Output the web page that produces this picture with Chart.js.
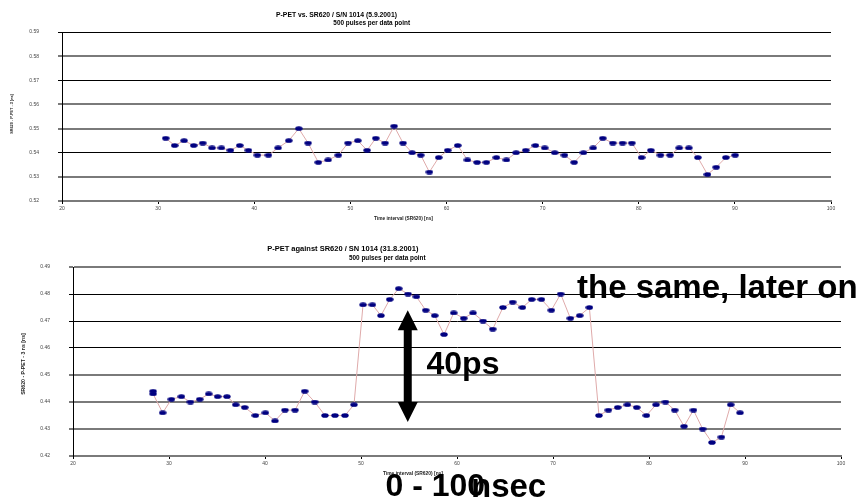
<!DOCTYPE html>
<html><head><meta charset="utf-8">
<script src="https://cdn.jsdelivr.net/npm/chart.js@4.4.1/dist/chart.umd.min.js"></script>
<style>
html,body{margin:0;padding:0;background:#fff;}
#wrap{position:relative;width:862px;height:502px;overflow:hidden;font-family:"Liberation Sans",Arial,sans-serif;}
canvas{position:absolute;left:0;}
.t{position:absolute;white-space:nowrap;font-weight:bold;color:#000;line-height:1;}
.c{transform:translate(-50%,-50%);}
.r{transform:translate(-50%,-50%) rotate(-90deg);}
.big{font-size:32px;}
</style></head><body>
<div id="wrap">
<canvas id="c1" width="862" height="228" style="top:0"></canvas>
<canvas id="c2" width="862" height="272" style="top:230px"></canvas>
<div class="t c" style="left:336.5px;top:15px;font-size:6.8px">P-PET vs. SR620 / S/N 1014 (5.9.2001)</div>
<div class="t c" style="left:371.7px;top:23.3px;font-size:6.4px">500 pulses per data point</div>
<div class="t r" style="left:12.5px;top:114px;font-size:3.8px;color:#222">SR620 - P-PET - 3 [ns]</div>
<div class="t c" style="left:403.5px;top:219px;font-size:4.8px;color:#222">Time interval (SR620) [ns]</div>
<div class="t c" style="left:342.8px;top:249px;font-size:7.5px">P-PET against SR620 / SN 1014 (31.8.2001)</div>
<div class="t c" style="left:387.3px;top:257.7px;font-size:6.4px">500 pulses per data point</div>
<div class="t r" style="left:24px;top:364px;font-size:5.2px;color:#222">SR620 - P-PET - 3 ns [ns]</div>
<div class="t c" style="left:413px;top:474px;font-size:4.9px;color:#222">Time interval (SR620) [ns]</div>
<div class="t big" style="left:577px;top:270px;font-size:33px">the same, later on</div>
<div class="t big" style="left:426.5px;top:347px">40ps</div>
<div class="t big" style="left:385.5px;top:469px">0 - 100</div>
<div class="t big" style="left:471px;top:469px;font-size:33px">nsec</div>
</div>
<script>
// ---- data ----
const topX = [30.79,31.72,32.70,33.70,34.64,35.61,36.58,37.52,38.49,39.39,
  40.33,41.47,42.48,43.59,44.63,45.60,46.67,47.68,48.75,49.76,
  50.77,51.74,52.64,53.61,54.55,55.48,56.42,57.32,58.22,59.19,
  60.13,61.17,62.18,63.18,64.15,65.19,66.23,67.24,68.25,69.25,
  70.22,71.26,72.27,73.28,74.25,75.26,76.26,77.30,78.31,79.28,
  80.29,81.26,82.26,83.27,84.21,85.21,86.15,87.15,88.06,89.06,
  90.03];
const topY = [0.546,0.543,0.545,0.543,0.544,0.542,0.542,0.541,0.543,0.541,
  0.539,0.539,0.542,0.545,0.550,0.544,0.536,0.537,0.539,0.544,
  0.545,0.541,0.546,0.544,0.551,0.544,0.540,0.539,0.532,0.538,
  0.541,0.543,0.537,0.536,0.536,0.538,0.537,0.540,0.541,0.543,
  0.542,0.540,0.539,0.536,0.540,0.542,0.546,0.544,0.544,0.544,
  0.538,0.541,0.539,0.539,0.542,0.542,0.538,0.531,0.534,0.538,
  0.539];
const bottomX = [28.34,28.34,29.34,30.25,31.29,32.23,33.20,34.14,35.07,36.04,
  36.95,37.89,39.00,40.04,41.04,42.08,43.13,44.14,45.18,46.25,
  47.29,48.33,49.27,50.21,51.19,52.08,52.99,53.93,54.90,55.77,
  56.74,57.68,58.65,59.66,60.70,61.67,62.71,63.72,64.79,65.80,
  66.81,67.78,68.79,69.83,70.80,71.81,72.78,73.79,74.79,75.77,
  76.74,77.75,78.72,79.73,80.73,81.71,82.68,83.65,84.63,85.59,
  86.56,87.54,88.51,89.48];
const bottomY = [0.444,0.443,0.436,0.441,0.442,0.440,0.441,0.443,0.442,0.442,
  0.439,0.438,0.435,0.436,0.433,0.437,0.437,0.444,0.440,0.435,
  0.435,0.435,0.439,0.476,0.476,0.472,0.478,0.482,0.480,0.479,
  0.474,0.472,0.465,0.473,0.471,0.473,0.470,0.467,0.475,0.477,
  0.475,0.478,0.478,0.474,0.480,0.471,0.472,0.475,0.435,0.437,
  0.438,0.439,0.438,0.435,0.439,0.440,0.437,0.431,0.437,0.430,
  0.425,0.427,0.439,0.436];
const topYRange = [0.52, 0.59];
const bottomYRange = [0.42, 0.49];
const xRange = [20, 100];
const topDarkGrid = [59, 57, 54];
const bottomDarkGrid = [48, 47, 46];
// annotation arrow (data coordinates)
const arrowX = 54.87, arrowTop = 0.474, arrowBottom = 0.4326;

// ---- drawing ----
function dot(){
  const c=document.createElement('canvas'); c.width=8; c.height=5;
  const g=c.getContext('2d'); g.fillStyle='#000080';
  g.beginPath(); g.ellipse(4,2.5,3.7,2.3,0,0,Math.PI*2); g.fill();
  return c;
}
const marker = dot();

const arrowPlugin = {
  id:'arrow',
  afterDatasetsDraw(chart){
    const {ctx, scales:{x,y}} = chart;
    const px = x.getPixelForValue(arrowX), t = y.getPixelForValue(arrowTop), b = y.getPixelForValue(arrowBottom);
    const hw = 10, hh = 20, sw = 4;
    ctx.save(); ctx.fillStyle='#000'; ctx.beginPath();
    ctx.moveTo(px,t); ctx.lineTo(px+hw,t+hh); ctx.lineTo(px+sw,t+hh); ctx.lineTo(px+sw,b-hh);
    ctx.lineTo(px+hw,b-hh); ctx.lineTo(px,b); ctx.lineTo(px-hw,b-hh); ctx.lineTo(px-sw,b-hh);
    ctx.lineTo(px-sw,t+hh); ctx.lineTo(px-hw,t+hh); ctx.closePath(); ctx.fill(); ctx.restore();
  }
};

function makeChart(id, xs, ys, yRange, dark, geom, plugins){
  const isDark = c => dark.includes(Math.round(c.tick.value*100));
  return new Chart(document.getElementById(id), {
    type:'line',
    data:{datasets:[{
      data: xs.map((x,i)=>({x:x, y:ys[i]})),
      borderColor:'#dfaaaa', borderWidth:1, tension:0,
      pointStyle: marker, pointRadius:4, pointHoverRadius:4, fill:false
    }]},
    options:{
      responsive:false, animation:false, events:[],
      layout:{padding:{left:0, right:geom.right, top:geom.top, bottom:0}},
      plugins:{legend:{display:false}, tooltip:{enabled:false}, title:{display:false}},
      scales:{
        x:{type:'linear', min:xRange[0], max:xRange[1],
          afterFit: s => { s.height = geom.xh; },
          ticks:{stepSize:10, font:{family:'Liberation Sans', size:5}, color:'#444', padding:2, maxRotation:0, autoSkip:false},
          grid:{drawOnChartArea:false, drawTicks:true, tickLength:3, color:'#000'},
          border:{display:true, color:'#7a7a7a', width:2}
        },
        y:{type:'linear', min:yRange[0], max:yRange[1],
          afterFit: s => { s.width = geom.yw; },
          ticks:{stepSize:0.01, font:{family:'Liberation Sans', size:5}, color:'#444', padding:19,
            callback: v => v.toFixed(2)},
          grid:{tickLength:4, color: c => isDark(c) ? '#000' : '#7a7a7a', lineWidth: c => isDark(c) ? 1 : 2},
          border:{display:true, color:'#000', width:1}
        }
      }
    },
    plugins: plugins
  });
}

makeChart('c1', topX, topY, topYRange, topDarkGrid, {right:31, top:32, xh:27, yw:62}, []);
makeChart('c2', bottomX, bottomY, bottomYRange, bottomDarkGrid, {right:21, top:37, xh:46, yw:73}, [arrowPlugin]);
</script>
</body></html>
